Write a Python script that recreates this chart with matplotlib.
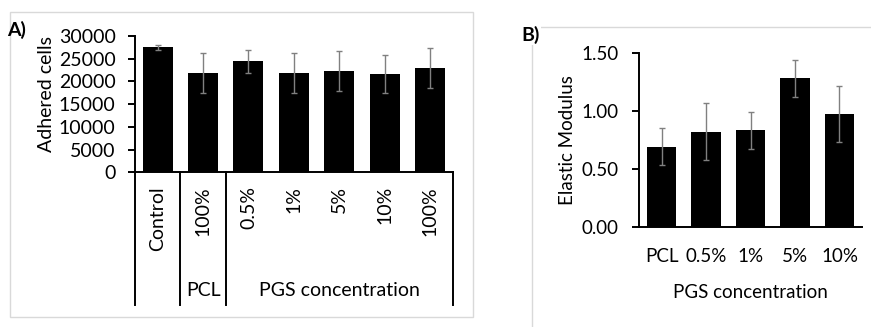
import matplotlib
matplotlib.use('Agg')
import matplotlib.pyplot as plt
from matplotlib.patches import Rectangle
from matplotlib.lines import Line2D
import numpy as np

plt.rcParams['font.family'] = ['Lato', 'DejaVu Sans']

# ---------------- data ----------------
cells_categories = ['Control', '100%', '0.5%', '1%', '5%', '10%', '100%']
cells_values = [27500, 21800, 24400, 21800, 22300, 21700, 22900]
cells_errors = [550, 4400, 2500, 4400, 4300, 4200, 4400]
cells_yticks = [0, 5000, 10000, 15000, 20000, 25000, 30000]
group_labels = ['', 'PCL', 'PGS concentration']
group_first = [0, 1, 2]
group_last = [0, 1, 6]

modulus_categories = ['PCL', '0.5%', '1%', '5%', '10%']
modulus_values = [0.69, 0.82, 0.83, 1.28, 0.97]
modulus_errors = [0.16, 0.245, 0.16, 0.16, 0.24]
modulus_yticks = [0.0, 0.5, 1.0, 1.5]

# ---------------- figure ----------------
W, H = 871, 327
fig = plt.figure(figsize=(W / 100, H / 100), dpi=100)
fig.patch.set_facecolor('white')

def fx(px):
    return px / W

def fy(py):
    return (H - py) / H

FRAME = '#d9d9d9'
ECOL = '#808080'
LW = 1.4

# panel frames
fig.add_artist(Rectangle((fx(10), fy(317)), fx(472.7) - fx(10), fy(12) - fy(317),
                         transform=fig.transFigure, fill=False, edgecolor=FRAME, lw=1))
fig.add_artist(Line2D([fx(531.7), fx(531.7), 1.0], [0.0, fy(27), fy(27)],
                      transform=fig.transFigure, color=FRAME, lw=1))

# ---------------- panel A ----------------
axA = fig.add_axes([fx(135), fy(172.3), fx(452.7) - fx(135), fy(36) - fy(172.3)])
xa = np.arange(len(cells_categories))
axA.bar(xa, cells_values, width=0.66, color='black', zorder=2)
axA.errorbar(xa, cells_values, yerr=cells_errors, fmt='none', ecolor=ECOL,
             elinewidth=1, capsize=2.5, capthick=1, zorder=3)
axA.set_xlim(-0.5, len(cells_categories) - 0.5)
axA.set_ylim(0, 30000)
axA.set_yticks(cells_yticks)
axA.set_yticklabels([str(v) for v in cells_yticks])
axA.set_xticks(xa)
axA.set_xticklabels(cells_categories, rotation=90, va='top', ha='center')
axA.tick_params(axis='y', direction='out', length=5, width=LW, pad=9, labelsize=14)
axA.tick_params(axis='x', length=0, pad=10, labelsize=14)
for s in ['top', 'right']:
    axA.spines[s].set_visible(False)
for s in ['left', 'bottom']:
    axA.spines[s].set_linewidth(LW)

# group dividers and labels below axis
trA = axA.get_xaxis_transform()
ybot = -(305 - 172.3) / (172.3 - 36)
bounds = sorted(set([f - 0.5 for f in group_first] + [l + 0.5 for l in group_last]))
for b in bounds:
    axA.add_line(Line2D([b, b], [0, ybot], transform=trA, color='black', lw=LW, clip_on=False))
ylab = -(291 - 172.3) / (172.3 - 36)
for lab, f, l in zip(group_labels, group_first, group_last):
    if lab:
        axA.text((f + l) / 2, ylab, lab, transform=trA, ha='center', va='center', fontsize=14)

fig.text(fx(46), fy(94), 'Adhered cells', rotation=90, ha='center', va='center', fontsize=14)
fig.text(fx(17), fy(30), 'A)', ha='center', va='center', fontsize=14, fontweight='bold')

# ---------------- panel B ----------------
axB = fig.add_axes([fx(639.3), fy(226.7), fx(861.7) - fx(639.3), fy(52.7) - fy(226.7)])
xb = np.arange(len(modulus_categories))
axB.bar(xb, modulus_values, width=0.66, color='black', zorder=2)
axB.errorbar(xb, modulus_values, yerr=modulus_errors, fmt='none', ecolor=ECOL,
             elinewidth=1, capsize=2.5, capthick=1, zorder=3)
axB.set_xlim(-0.5, len(modulus_categories) - 0.5)
axB.set_ylim(0, 1.5)
axB.set_yticks(modulus_yticks)
axB.set_yticklabels(['%.2f' % v for v in modulus_yticks])
axB.set_xticks(xb)
axB.set_xticklabels(modulus_categories)
axB.tick_params(axis='y', direction='out', length=5, width=LW, pad=10, labelsize=13.5)
axB.tick_params(axis='x', length=0, pad=15, labelsize=13.5)
for s in ['top', 'right']:
    axB.spines[s].set_visible(False)
for s in ['left', 'bottom']:
    axB.spines[s].set_linewidth(LW)

fig.text(fx(750), fy(293), 'PGS concentration', ha='center', va='center', fontsize=13.5)
fig.text(fx(567), fy(140), 'Elastic Modulus', rotation=90, ha='center', va='center', fontsize=13.5)
fig.text(fx(531), fy(35), 'B)', ha='center', va='center', fontsize=14, fontweight='bold',
         bbox=dict(facecolor='white', edgecolor='none', pad=0.5))

fig.savefig('out.png', dpi=100, facecolor='white')
